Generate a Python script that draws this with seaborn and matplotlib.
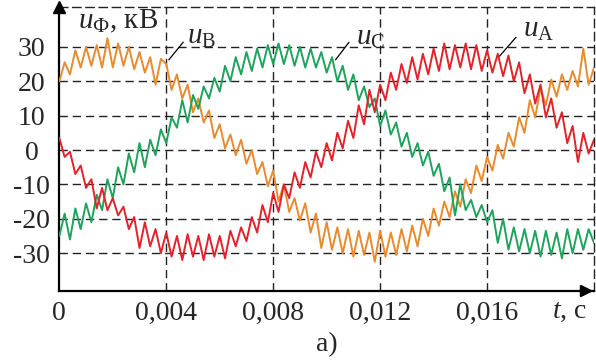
import numpy as np
import pandas as pd
import matplotlib
matplotlib.use("Agg")
import matplotlib.pyplot as plt
import seaborn as sns

# ---- data (t step 0.0002 s) ----
t_start, t_stop, n_pts = 0.0, 0.02, 101

u_A = [3.5, -2, -0.5, -7, -4.5, -11, -8.5, -17, -11, -17.5,
       -14, -19, -16.5, -23, -19.5, -28.5, -21, -28, -23, -30,
       -24, -31, -25, -32, -24.5, -31, -25, -32, -24.5, -31,
       -25, -31.5, -23.5, -28, -22.5, -26.5, -19.5, -24, -16, -21,
       -12.5, -18, -10, -14, -6.5, -11, -3.5, -8, -0.5, -5,
       2, -3, 5, 0.5, 8.5, 3.5, 13, 7.5, 17.5, 11,
       19, 14.5, 22.5, 17.5, 25, 19.5, 27, 20.5, 28, 22,
       29.5, 23, 31, 23.5, 30.5, 24, 31, 23.5, 30.5, 23,
       29, 22.5, 28, 21.5, 27.5, 20, 25.5, 16.5, 22, 13.5,
       19, 9.5, 15, 6.5, 11, 2, 7, -3.5, 5, -1, 3]

u_B = [20, 25.5, 22, 29, 24, 30, 24.5, 30.5, 24, 32.5,
       24, 31, 24.5, 30, 23.5, 28.5, 22.5, 27, 19, 26.5,
       25, 17.5, 22, 15, 19, 11, 15, 8, 11.5, 3.5,
       7.5, 0.5, 4.5, -1.5, 3, -4, 0, -7, -3.5, -10.5,
       -6, -15, -10, -18, -14, -20.5, -15.5, -24, -18.5, -28.5,
       -21, -29, -22.5, -30, -23, -31, -23.5, -30.5, -24, -32.5,
       -23.5, -31, -24, -30.5, -23, -29.5, -22, -28, -20, -25,
       -17, -22, -15, -19.5, -12, -16.5, -8.5, -12.5, -4.5, -9,
       -2, -6, 1.5, -2.5, 5, 1, 9.5, 5, 14.5, 9.5,
       18, 13, 20.5, 15.5, 22, 17.5, 23, 18.5, 29.5, 19, 24]

u_C = [-25, -18.5, -26, -17, -23, -15.5, -21, -13, -17.5, -8.5,
       -14, -5, -10, -1, -6.5, 2, -5, 3, -1.5, 6,
       2, 9.5, 6.5, 14.5, 8, 16, 12, 18.5, 15, 21,
       17, 24.5, 20, 27, 22, 28.5, 23, 29.5, 24, 30.5,
       25, 31, 25, 30.5, 24.5, 30, 24, 29.5, 24, 28.5,
       22.5, 27, 20, 24.5, 17.5, 22, 14.5, 18.5, 12.5, 15,
       7, 11.5, 4.5, 8, 1, 5, -2, 2, -4.5, -0.5,
       -7.5, -4, -12, -8, -19, -10, -17.5, -14.5, -19.5, -16,
       -21, -17.5, -27, -20, -29, -22.5, -29.5, -23, -30, -23.5,
       -31, -23.5, -30.5, -24, -31.5, -23, -30, -23, -29, -23, -27]

palette = {"А": "#e3222b", "В": "#e88a2e", "С": "#1fa35c"}

y_ticks = [-30, -20, -10, 0, 10, 20, 30]
x_ticks = [0, 0.004, 0.008, 0.012, 0.016]
x_tick_labels = ["0", "0,004", "0,008", "0,012", "0,016"]

# ---- build long table ----
t = np.linspace(t_start, t_stop, n_pts)
df = pd.concat([
    pd.DataFrame({"t": t, "u": u_B, "phase": "В"}),
    pd.DataFrame({"t": t, "u": u_C, "phase": "С"}),
    pd.DataFrame({"t": t, "u": u_A, "phase": "А"}),
], ignore_index=True)

sns.set_style("white")
plt.rcParams["font.family"] = ["Liberation Serif", "DejaVu Serif"]
plt.rcParams["mathtext.fontset"] = "custom"
plt.rcParams["mathtext.rm"] = "Liberation Serif"
plt.rcParams["mathtext.it"] = "Liberation Serif:italic"

fig = plt.figure(figsize=(5.96, 3.60), dpi=100)
ax = fig.add_axes([59.3 / 596, 1 - 291 / 360, 534.7 / 596, 284 / 360])

sns.lineplot(data=df, x="t", y="u", hue="phase", palette=palette,
             hue_order=["В", "С", "А"], linewidth=1.4, legend=False,
             ax=ax, zorder=3, solid_joinstyle="round", solid_capstyle="round")

ax.set_xlim(0, 0.02)
ax.set_ylim(-41, 41.6)

# grid
for yv in y_ticks:
    ax.axhline(yv, color="#222222", lw=1.0, ls=(0, (6, 3.5)), zorder=1)
for xv in x_ticks[1:]:
    ax.axvline(xv, color="#222222", lw=1.0, ls=(0, (6, 3.5)), zorder=1)

# spines
for s in ["left", "bottom"]:
    ax.spines[s].set_linewidth(1.6)
    ax.spines[s].set_color("black")
for s in ["top", "right"]:
    ax.spines[s].set_linestyle((0, (6, 3.5)))
    ax.spines[s].set_linewidth(1.0)
    ax.spines[s].set_color("#222222")

ax.set_yticks(y_ticks)
ax.set_yticklabels([str(v) for v in y_ticks], ha="center")
ax.set_xticks(x_ticks)
ax.set_xticklabels(x_tick_labels)
ax.tick_params(axis="y", length=0, pad=20, labelsize=20)
ax.tick_params(axis="x", direction="in", length=4, width=1.4, pad=7, labelsize=20)
ax.set_xlabel("")
ax.set_ylabel("")

# arrows on axes
ax.plot(0, 1.0, marker="^", color="black", markersize=9, transform=ax.transAxes,
        clip_on=False, zorder=5)
ax.annotate("", xy=(1.004, 0), xycoords="axes fraction", xytext=(0.98, 0),
            arrowprops=dict(arrowstyle="-|>", color="black", lw=1.6,
                            mutation_scale=18), annotation_clip=False)

# curve labels
ax.annotate("", xy=(0.00403, 25.6), xytext=(0.0047, 32),
            arrowprops=dict(arrowstyle="-", color="black", lw=0.9))
ax.text(0.00476, 31.0, r"$u_{\mathrm{В}}$", fontsize=21, ha="left", va="baseline")
ax.annotate("", xy=(0.01027, 25.6), xytext=(0.0109, 32),
            arrowprops=dict(arrowstyle="-", color="black", lw=0.9))
ax.text(0.01109, 30.5, r"$u_{\mathrm{С}}$", fontsize=21, ha="left", va="baseline")
ax.annotate("", xy=(0.0164, 26.7), xytext=(0.01715, 33.4),
            arrowprops=dict(arrowstyle="-", color="black", lw=0.9))
ax.text(0.01733, 33.0, r"$u_{\mathrm{А}}$", fontsize=21, ha="left", va="baseline")

ax.text(0.0007, 35.5, r"$u_{\mathrm{Ф}}$, кВ", fontsize=21, ha="left", va="baseline")

fig.text(552 / 596, 1 - 312 / 360, r"$t$, с", fontsize=20, ha="left", va="center")
fig.text(327 / 596, 1 - 345 / 360, "а)", fontsize=20, ha="center", va="center")

fig.savefig("out.png", dpi=100)
